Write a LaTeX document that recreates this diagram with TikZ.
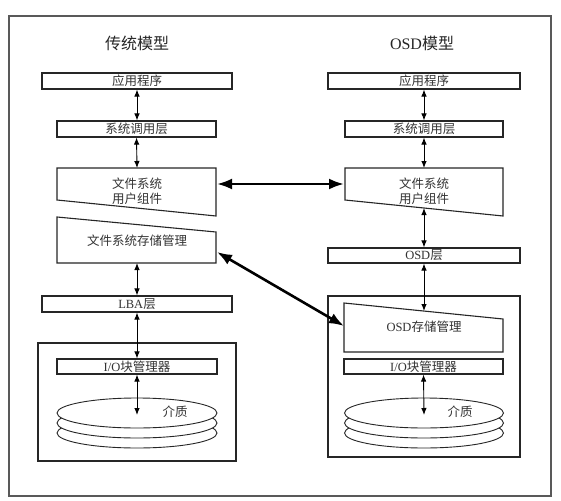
\documentclass[tikz,border=0pt]{standalone}
\usepackage{fontspec}
\setmainfont{Liberation Serif}
\newfontfamily\cjk{Noto Sans CJK SC}
\newcommand\zh[1]{{\cjk #1}}
\usetikzlibrary{arrows.meta,shapes.geometric,calc}
\begin{document}
\begin{tikzpicture}[x=1pt,y=-1pt,
  ln/.style={draw=black!85, line width=1.1pt},
  layer/.style={ln, fill=white, inner sep=0pt, text=black!80, font=\fontsize{12.5}{13}\selectfont},
  shp/.style={ln, fill=white},
  lbl/.style={text=black!80, font=\fontsize{12.5}{14.5}\selectfont, inner sep=0pt, align=center},
  ttl/.style={text=black!85, font=\fontsize{16}{18}\selectfont, inner sep=0pt},
  thinarr/.style={black, line width=0.9pt, {Latex[length=7pt,width=5.5pt]}-{Latex[length=7pt,width=5.5pt]}},
  thickarr/.style={black, line width=2.6pt, {Latex[length=15pt,width=11pt]}-{Latex[length=15pt,width=11pt]}},
  disk/.style={ellipse, draw=black!85, line width=0.9pt, fill=white, minimum height=30pt, inner sep=0pt}]
\useasboundingbox (0,0) rectangle (561,500);
\draw[draw=black!65, line width=1.1pt] (9,16) rectangle (551,496);

% titles
\node[ttl] (t1) at (137,43) {\zh{传统模型}};
\node[ttl] (t2) at (422,43) {OSD\zh{模型}};

% ---------- left column ----------
\node[layer, minimum width=190pt, minimum height=16pt] (app1) at (137,81) {\zh{应用程序}};
\node[layer, minimum width=159pt, minimum height=16pt] (sys1) at (136.5,129) {\zh{系统调用层}};
\draw[shp] (57,168) -- (216,168) -- (216,216) -- (57,200) -- cycle;
\coordinate (ufc1top) at (137,168);
\node[lbl] (ufc1) at (137,191) {\zh{文件系统}\\\zh{用户组件}};
\draw[shp] (57,217) -- (216,232) -- (216,263) -- (57,263) -- cycle;
\coordinate (fsm1bot) at (137,263);
\coordinate (fsm1r) at (217,252);
\node[lbl] (fsm1) at (137,241) {\zh{文件系统存储管理}};
\node[layer, minimum width=190pt, minimum height=16pt] (lba1) at (137,304) {LBA\zh{层}};
\draw[ln, fill=white] (38,343) rectangle (236,461);
\node[layer, minimum width=160pt, minimum height=15pt] (io1) at (137,366.5) {I/O\zh{块管理器}};
\node[disk, minimum width=160pt] (d13) at (137,433) {};
\node[disk, minimum width=160pt] (d12) at (137,423) {};
\node[disk, minimum width=160pt] (d11) at (137,413) {};
\coordinate (d1in) at (137,415);
\node[lbl] (m1) at (175,412) {\zh{介质}};

\draw[thinarr] (app1.south) -- (app1.south |- sys1.north);
\draw[thinarr] (sys1.south) -- (ufc1top);
\draw[thinarr] (fsm1bot) -- (lba1.north);
\draw[thinarr] (lba1.south) -- (io1.north);
\draw[thinarr] (io1.south) -- (d1in);

% ---------- right column ----------
\node[layer, minimum width=192pt, minimum height=16pt] (app2) at (424,81) {\zh{应用程序}};
\node[layer, minimum width=158pt, minimum height=16pt] (sys2) at (424,129) {\zh{系统调用层}};
\draw[shp] (345,168) -- (503,168) -- (503,216) -- (345,200) -- cycle;
\coordinate (ufc2top) at (424,168);
\coordinate (ufc2bot) at (424,208);
\node[lbl] (ufc2) at (424,191) {\zh{文件系统}\\\zh{用户组件}};
\node[layer, minimum width=192pt, minimum height=15pt] (osd2) at (424,255.5) {OSD\zh{层}};
\draw[ln, fill=white] (328,296) rectangle (520,457);
\draw[shp] (344,303) -- (503,319) -- (503,352) -- (344,352) -- cycle;
\coordinate (osm2top) at (424,311);
\coordinate (osm2l) at (344,326);
\node[lbl] (osm2) at (424,327) {OSD\zh{存储管理}};
\node[layer, minimum width=159pt, minimum height=15pt] (io2) at (423.5,366.5) {I/O\zh{块管理器}};
\node[disk, minimum width=159pt] (d23) at (424,433) {};
\node[disk, minimum width=159pt] (d22) at (424,423) {};
\node[disk, minimum width=159pt] (d21) at (424,413) {};
\coordinate (d2in) at (424,415);
\node[lbl] (m2) at (460,412) {\zh{介质}};

\draw[thinarr] (app2.south) -- (app2.south |- sys2.north);
\draw[thinarr] (sys2.south) -- (ufc2top);
\draw[thinarr] (ufc2bot) -- (osd2.north);
\draw[thinarr] (osd2.south) -- (osm2top);
\draw[thinarr] (io2.south) -- (d2in);

% ---------- cross arrows ----------
\coordinate (ufc1r) at (217,184);
\coordinate (ufc2l) at (344,184);
\draw[thickarr] (ufc1r) -- (ufc2l);
\draw[thickarr] (fsm1r) -- (osm2l);
\end{tikzpicture}
\end{document}
